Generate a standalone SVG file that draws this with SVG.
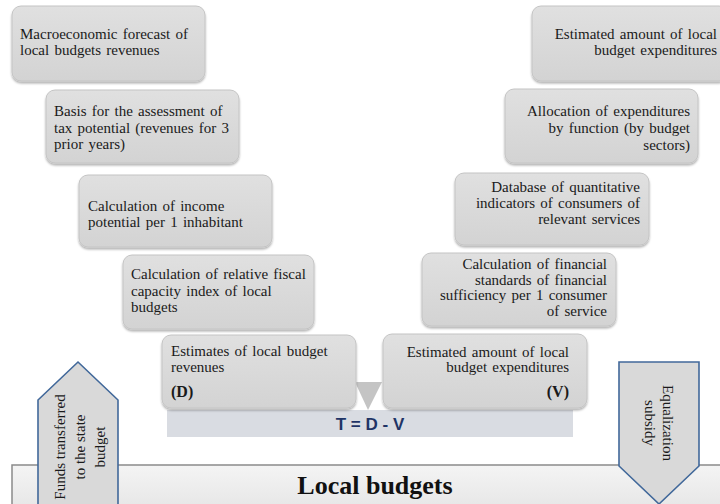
<svg xmlns="http://www.w3.org/2000/svg" width="720" height="504" viewBox="0 0 720 504">
<style>
.box{fill:url(#g);stroke:#c4c4c4;stroke-width:1;filter:url(#sh)}
.t{font-family:"Liberation Serif","Times New Roman",serif;font-size:15px;fill:#1a1a1a;word-spacing:1.5px}
.r{text-anchor:end}
.b{font-weight:bold;font-size:16px}
.arrow{fill:#d9d9d9;stroke:#41689a;stroke-width:1.6}
</style>
<defs>
<linearGradient id="g" x1="0" y1="0" x2="0" y2="1">
<stop offset="0" stop-color="#e0e0e0"/>
<stop offset="1" stop-color="#d3d3d3"/>
</linearGradient>
<linearGradient id="gb" x1="0" y1="0" x2="0" y2="1">
<stop offset="0" stop-color="#f4f4f4"/>
<stop offset="1" stop-color="#e6e6e6"/>
</linearGradient>
<filter id="sh" x="-10%" y="-10%" width="120%" height="130%">
<feDropShadow dx="0" dy="2" stdDeviation="1.2" flood-color="#000" flood-opacity="0.3"/>
</filter>
</defs>

<g id="local-budgets">
<rect x="12" y="465" width="720" height="45" fill="url(#gb)" stroke="#8a8a8a" stroke-width="1.5"/>
<text x="375" y="494" text-anchor="middle" style="font-family:'Liberation Serif','Times New Roman',serif;font-size:26px;font-weight:bold;fill:#111">Local budgets</text>
</g>

<g id="formula">
<rect x="167" y="410" width="406" height="27" fill="#d9dce2"/>
<text x="370" y="430" text-anchor="middle" style="font-family:'Liberation Sans',Arial,sans-serif;font-size:17px;font-weight:bold;fill:#1f3466">T = D - V</text>
</g>

<g id="connectors">
<polygon points="355,382 382,382 368,410" fill="#c4c4c4"/>
</g>

<g id="n1">
<rect class="box" x="12" y="6" width="193" height="75" rx="9"/>
<text class="t" x="20" y="39">Macroeconomic forecast of</text>
<text class="t" x="20" y="55">local budgets revenues</text>
</g>

<g id="n2">
<rect class="box" x="46" y="90" width="193" height="73" rx="9"/>
<text class="t" x="54" y="116">Basis for the assessment of</text>
<text class="t" x="54" y="132.5">tax potential (revenues for 3</text>
<text class="t" x="54" y="149">prior years)</text>
</g>

<g id="n3">
<rect class="box" x="79" y="175" width="193" height="72" rx="9"/>
<text class="t" x="88" y="211">Calculation of income</text>
<text class="t" x="88" y="227">potential per 1 inhabitant</text>
</g>

<g id="n4">
<rect class="box" x="123" y="255" width="191" height="74" rx="9"/>
<text class="t" x="131" y="279">Calculation of relative fiscal</text>
<text class="t" x="131" y="295.5">capacity index of local</text>
<text class="t" x="131" y="312">budgets</text>
</g>

<g id="n5">
<rect class="box" x="162" y="335" width="194" height="73" rx="9"/>
<text class="t" x="171" y="356">Estimates of local budget</text>
<text class="t" x="171" y="372">revenues</text>
<text class="t b" x="171" y="397">(D)</text>
</g>

<g id="n6">
<rect class="box" x="532" y="6" width="196" height="75" rx="9"/>
<text class="t r" x="717" y="39">Estimated amount of local</text>
<text class="t r" x="717" y="55">budget expenditures</text>
</g>

<g id="n7">
<rect class="box" x="505" y="89" width="193" height="74" rx="9"/>
<text class="t r" x="690" y="116">Allocation of expenditures</text>
<text class="t r" x="690" y="133">by function (by budget</text>
<text class="t r" x="690" y="150">sectors)</text>
</g>

<g id="n8">
<rect class="box" x="455" y="173" width="194" height="72" rx="9"/>
<text class="t r" x="640" y="192">Database of quantitative</text>
<text class="t r" x="640" y="208">indicators of consumers of</text>
<text class="t r" x="640" y="224">relevant services</text>
</g>

<g id="n9">
<rect class="box" x="422" y="253" width="194" height="73" rx="9"/>
<text class="t r" x="607" y="269">Calculation of financial</text>
<text class="t r" x="607" y="284.5">standards of financial</text>
<text class="t r" x="607" y="300">sufficiency per 1 consumer</text>
<text class="t r" x="607" y="316">of service</text>
</g>

<g id="n10">
<rect class="box" x="383" y="334" width="204" height="74" rx="9"/>
<text class="t r" x="569" y="357">Estimated amount of local</text>
<text class="t r" x="569" y="372">budget expenditures</text>
<text class="t b r" x="569" y="397">(V)</text>
</g>

<g id="funds-arrow">
<polygon class="arrow" points="38,510 38,400 78,362 118,400 118,510"/>
<g transform="translate(0,447) rotate(-90)" style="font-family:'Liberation Serif','Times New Roman',serif;font-size:15px;fill:#1a1a1a;text-anchor:middle">
<text x="0" y="65">Funds transferred</text>
<text x="0" y="85">to the state</text>
<text x="0" y="105">budget</text>
</g>
</g>

<g id="subsidy-arrow">
<polygon class="arrow" points="619,362 699,362 699,466 659,504 619,466"/>
<g transform="translate(0,423) rotate(90)" style="font-family:'Liberation Serif','Times New Roman',serif;font-size:15px;fill:#1a1a1a;text-anchor:middle">
<text x="0" y="-663">Equalization</text>
<text x="0" y="-645">subsidy</text>
</g>
</g>
</svg>
